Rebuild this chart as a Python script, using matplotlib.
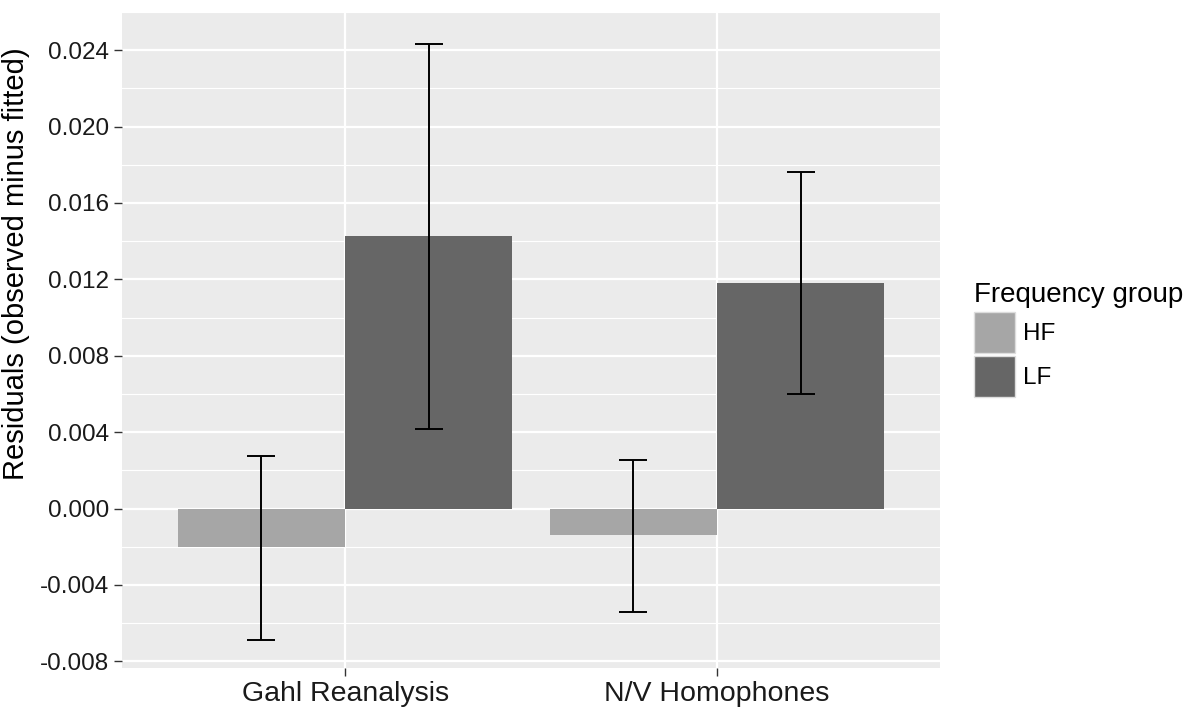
import numpy as np
import matplotlib
matplotlib.use("Agg")
import matplotlib.pyplot as plt
from matplotlib.patches import Patch

plt.rcParams["font.family"] = ["Liberation Sans", "DejaVu Sans"]

categories = ["Gahl Reanalysis", "N/V Homophones"]
groups = ["HF", "LF"]
means = {"HF": [-0.00204, -0.00141], "LF": [0.01425, 0.01180]}
err_lo = {"HF": [-0.00689, -0.00543], "LF": [0.00418, 0.00601]}
err_hi = {"HF": [0.00277, 0.00256], "LF": [0.02430, 0.01762]}
colors = {"HF": "#A6A6A6", "LF": "#666666"}
yticks = np.arange(-0.008, 0.0241, 0.004)

W, H = 1193, 710
fig = plt.figure(figsize=(W / 100, H / 100), dpi=100, facecolor="white")
ax = fig.add_axes([122 / W, (H - 668) / H, 818 / W, 656 / H], facecolor="#EBEBEB")

x = np.arange(1, len(categories) + 1)
bw = 0.45
for i, g in enumerate(groups):
    xs = x + (i - 0.5) * bw
    m = np.array(means[g])
    lo = np.array(err_lo[g])
    hi = np.array(err_hi[g])
    ax.bar(xs, m, width=bw, color=colors[g], edgecolor="none", zorder=2)
    ax.errorbar(xs, (lo + hi) / 2, yerr=(hi - lo) / 2, fmt="none",
                ecolor="black", elinewidth=1.4, capsize=10, capthick=1.4, zorder=3)

ax.set_xlim(0.4, 2.6)
ax.set_ylim(-0.00835, 0.02589)
ax.set_yticks(yticks)
ax.set_yticklabels([f"{v:.3f}" if abs(v) > 1e-9 else "0.000" for v in yticks])
ax.set_yticks(np.arange(-0.006, 0.0261, 0.004), minor=True)
ax.set_xticks(x)
ax.set_xticklabels(categories)

ax.grid(which="major", color="white", linewidth=1.6, zorder=0)
ax.grid(which="minor", axis="y", color="white", linewidth=0.8, zorder=0)
ax.set_axisbelow(True)
for s in ax.spines.values():
    s.set_visible(False)
ax.tick_params(which="major", length=5.5, width=1, color="#333333", labelcolor="#1a1a1a")
ax.tick_params(axis="y", labelsize=17.5, pad=4)
ax.tick_params(axis="x", labelsize=20.5, pad=4)
ax.tick_params(which="minor", length=0)

ax.set_ylabel("Residuals (observed minus fitted)", fontsize=21, color="black")
ax.yaxis.set_label_coords(-92 / 818, (668 - 264) / 656)

handles = [Patch(facecolor=colors[g], edgecolor="#DDDDDD", label=g) for g in groups]
leg = fig.legend(handles=handles, title="Frequency group", loc="upper left",
                 bbox_to_anchor=(974 / W, 1 - 282 / H), frameon=False,
                 fontsize=17.5, title_fontsize=20, handlelength=1.69, handleheight=2.2,
                 handletextpad=0.33, labelspacing=0.16, borderaxespad=0, borderpad=0)
leg._legend_box.align = "left"

fig.savefig("out.png", dpi=100, facecolor="white")
